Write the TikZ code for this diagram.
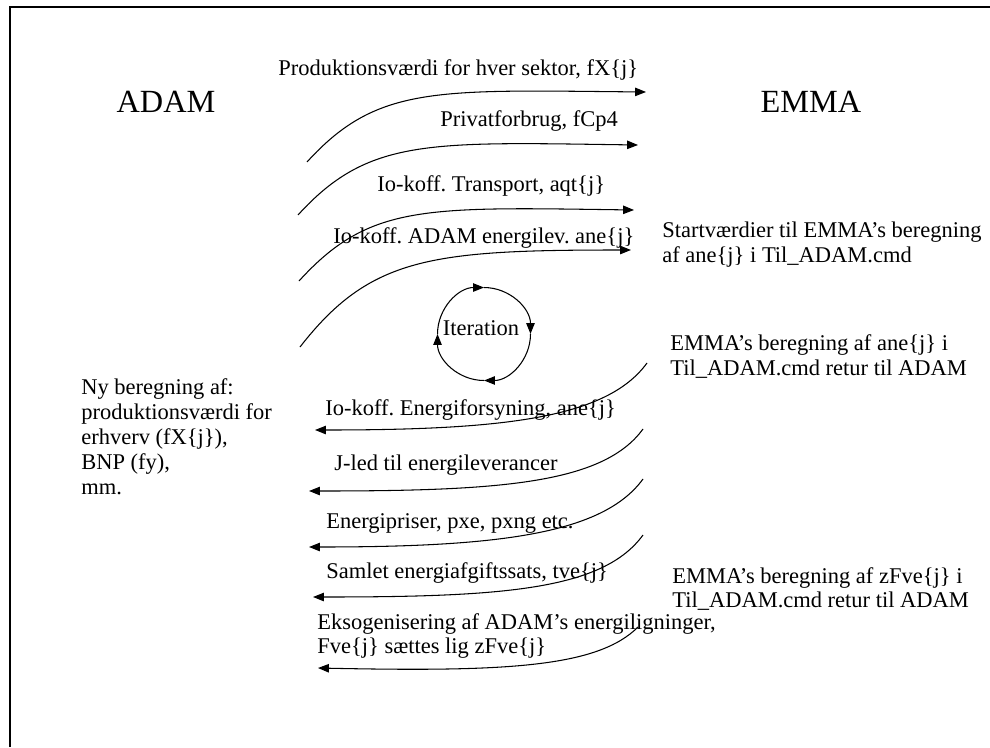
\documentclass[tikz,border=0pt]{standalone}
\usepackage{fontspec}
\setmainfont{Liberation Serif}
\usetikzlibrary{arrows.meta, positioning}
\frenchspacing

\begin{document}
\begin{tikzpicture}[
    x=0.02cm, y=-0.02cm,
    arrow/.style={-{Triangle[length=6.2pt,width=4.8pt]}, line width=0.6pt},
    model/.style={inner sep=0pt, font=\fontsize{18.4}{22}\selectfont},
    label/.style={inner sep=0pt, anchor=west, align=left, font=\fontsize{12.8}{14.2}\selectfont}
  ]
  \useasboundingbox (0,0) rectangle (990,747);

  % Ramme
  \draw[line width=1.1pt] (10,747) -- (10,7) -- (990,7);

  % Modellerne
  \node[model] (adam) at (166,102) {ADAM};
  \node[model] (emma) at (811,102) {EMMA};

  % Endepunkter for pilene
  \foreach \n/\sx/\sy/\ex/\ey in {1/307/162/646/92, 2/298/215/638/145, 3/299/281/634/210, 4/300/347/631/250} {
    \coordinate (a\n s) at (\sx,\sy);
    \coordinate (a\n e) at (\ex,\ey);
  }
  \foreach \n/\sx/\sy/\ex/\ey in {1/647/363/315/430, 2/643/429/309/491, 3/643/479/309/547, 4/643/535/313/597, 5/638/627/318/668} {
    \coordinate (b\n s) at (\sx,\sy);
    \coordinate (b\n e) at (\ex,\ey);
  }

  % Fra ADAM til EMMA
  \draw[arrow] (a1s) .. controls +(70,-77) and +(-210,-2) .. (a1e);
  \draw[arrow] (a2s) .. controls +(70,-77) and +(-210,-3) .. (a2e);
  \draw[arrow] (a3s) .. controls +(70,-77) and +(-210,-3) .. (a3e);
  \draw[arrow] (a4s) .. controls +(70,-90) and +(-200,0) .. (a4e);

  \node[label] (l1) at (278,70) {Produktionsværdi for hver sektor, fX\{j\}};
  \node[label] (l2) at (440,121) {Privatforbrug, fCp4};
  \node[label] (l3) at (377,186) {Io-koff. Transport, aqt\{j\}};
  \node[label] (l4) at (333,238) {Io-koff. ADAM energilev. ane\{j\}};

  % Iteration
  \coordinate (itc) at (484,334);
  \node[label, anchor=center] (iter) at (481,328) {Iteration};
  \foreach \a in {180,90,0,-90}
    \draw[arrow] ([shift={(\a:0.93cm)}]itc) arc[start angle=\a, end angle=\a-90, radius=0.93cm];

  % Fra EMMA til ADAM
  \draw[arrow] (b1s) .. controls +(-40,55) and +(190,0) .. (b1e);
  \draw[arrow] (b2s) .. controls +(-40,55) and +(190,0) .. (b2e);
  \draw[arrow] (b3s) .. controls +(-40,55) and +(190,0) .. (b3e);
  \draw[arrow] (b4s) .. controls +(-40,55) and +(190,0) .. (b4e);
  \draw[arrow] (b5s) .. controls +(-40,40) and +(190,4) .. (b5e);

  \node[label] (m1) at (325,410) {Io-koff. Energiforsyning, ane\{j\}};
  \node[label] (m2) at (334,465) {J-led til energileverancer};
  \node[label] (m3) at (326,523) {Energipriser, pxe, pxng etc.};
  \node[label] (m4) at (326,573) {Samlet energiafgiftssats, tve\{j\}};
  \node[label] (m5) at (317,636) {Eksogenisering af ADAM’s energiligninger,\\Fve\{j\} sættes lig zFve\{j\}};

  % Forklaringer
  \node[label] (start) at (662,245) {Startværdier til EMMA’s beregning\\af ane\{j\} i Til\_ADAM.cmd};
  \node[label] (retur1) at (670,357) {EMMA’s beregning af ane\{j\} i\\Til\_ADAM.cmd retur til ADAM};
  \node[label] (retur2) at (672,589) {EMMA’s beregning af zFve\{j\} i\\Til\_ADAM.cmd retur til ADAM};
  \node[label] (ny) at (81,437) {Ny beregning af:\\produktionsværdi for\\erhverv (fX\{j\}),\\BNP (fy),\\mm.};
\end{tikzpicture}
\end{document}
